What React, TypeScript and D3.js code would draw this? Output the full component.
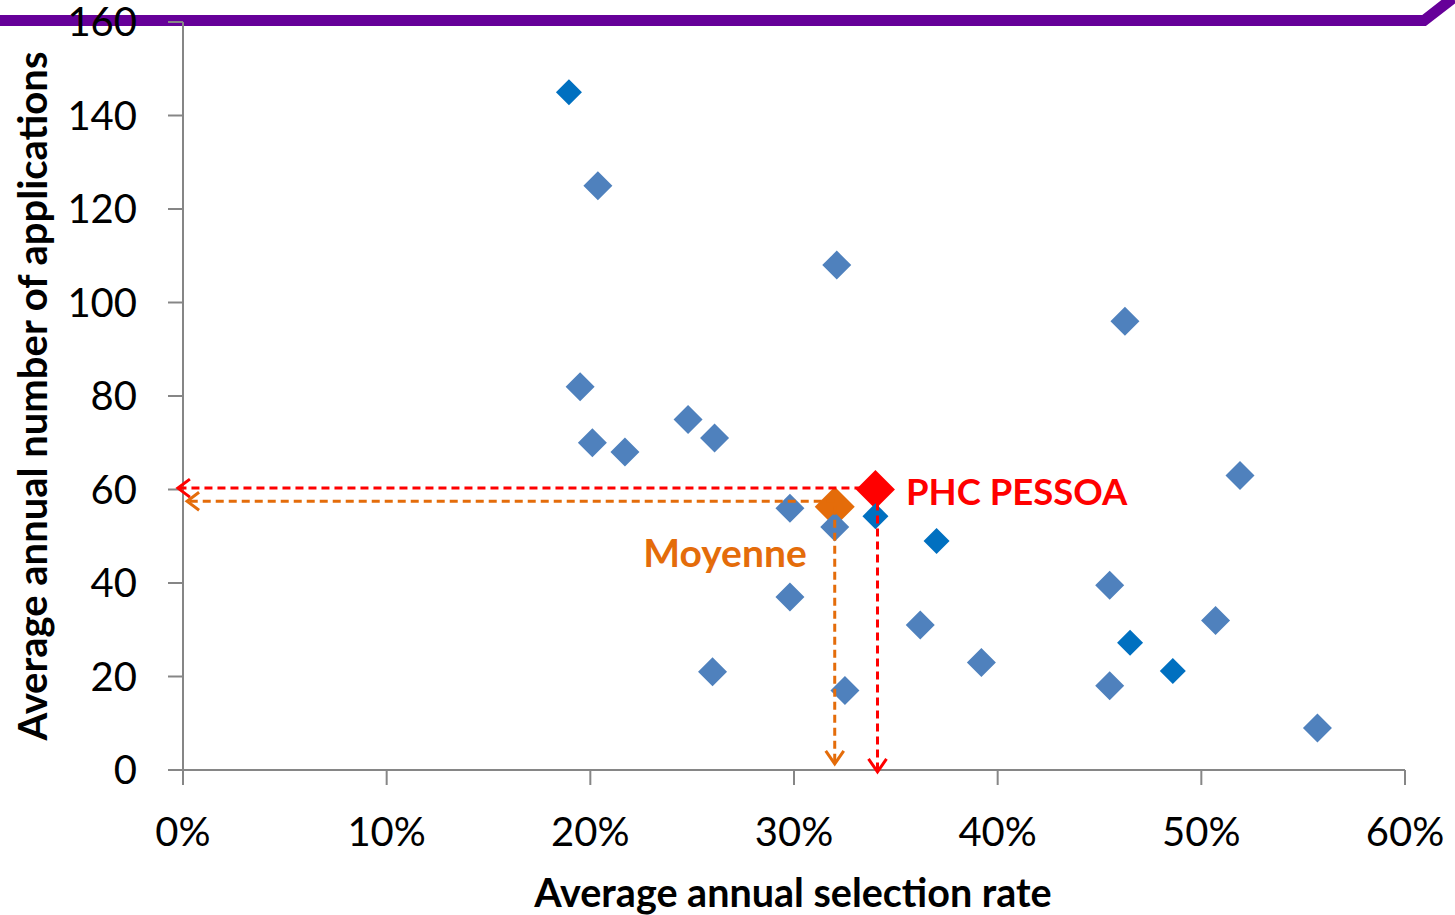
import React from "react";
import * as d3 from "d3";

const W = 1455;
const H = 915;

// Main series (light blue): [selection rate, applications]
const seriesLightX = [0.2037, 0.321, 0.4625, 0.195, 0.201, 0.217, 0.248, 0.261, 0.519, 0.298, 0.320, 0.298, 0.260, 0.325, 0.362, 0.392, 0.455, 0.455, 0.507, 0.557];
const seriesLightY = [125, 108, 96, 82, 70, 68, 75, 71, 63, 56, 52, 37, 21, 17, 31, 23, 39.5, 18, 32, 9];
// Second series (darker blue)
const seriesDarkX = [0.1895, 0.340, 0.370, 0.465, 0.486];
const seriesDarkY = [145, 54.3, 49, 27.2, 21.2];
// Highlighted points
const avgPoint = { x: 0.320, y: 56.3, label: "Moyenne" };
const pessoaPoint = { x: 0.340, y: 60, label: "PHC PESSOA" };
// Guide line levels (dashed arrows)
const avgGuide = { hY: 57.5, hTip: 0.002, vX: 0.320, vTip: 1.3 };
const pessoaGuide = { hY: 60.3, hTip: -0.0025, vX: 0.341, vTip: -0.4 };

const xTicks = [0, 0.1, 0.2, 0.3, 0.4, 0.5, 0.6];
const yTicks = [0, 20, 40, 60, 80, 100, 120, 140, 160];
const xTitle = "Average annual selection rate";
const yTitle = "Average annual number of applications";

const FONT = "Lato, 'Open Sans', sans-serif";

function diamond(cx: number, cy: number, r: number) {
  return `M${cx},${cy - r}L${cx + r},${cy}L${cx},${cy + r}L${cx - r},${cy}Z`;
}

export default function App() {
  const x = d3.scaleLinear().domain([0, 0.6]).range([183, 1405]);
  const y = d3.scaleLinear().domain([0, 160]).range([770, 22]);
  const axisColor = "#868686";
  const fmt = d3.format(".0%");

  const arrowH = (tipX: number, yy: number) =>
    `M${tipX + 12},${yy - 9}L${tipX},${yy}L${tipX + 12},${yy + 9}`;
  const arrowV = (xx: number, tipY: number) =>
    `M${xx - 9},${tipY - 13}L${xx},${tipY}L${xx + 9},${tipY - 13}`;

  return (
    <svg width={W} height={H} style={{ position: "absolute", left: 0, top: 0, background: "#fff" }} fontFamily={FONT}>
      {/* purple top band */}
      <path d={`M-10,20.5L1424,20.5L1453,-2`} stroke="#660099" strokeWidth={11} fill="none" strokeLinejoin="miter" />

      {/* axes */}
      <line x1={x(0)} x2={x(0)} y1={y(160)} y2={y(0)} stroke={axisColor} strokeWidth={2} />
      <line x1={x(0)} x2={x(0.6)} y1={y(0)} y2={y(0)} stroke={axisColor} strokeWidth={2} />
      {yTicks.map((t) => (
        <g key={"y" + t}>
          <line x1={x(0) - 15} x2={x(0)} y1={y(t)} y2={y(t)} stroke={axisColor} strokeWidth={2} />
          <text x={137} y={y(t)} dy="0.36em" textAnchor="end" fontSize={40} fill="#000">{t}</text>
        </g>
      ))}
      {xTicks.map((t) => (
        <g key={"x" + t}>
          <line x1={x(t)} x2={x(t)} y1={y(0)} y2={y(0) + 15} stroke={axisColor} strokeWidth={2} />
          <text x={x(t)} y={832} dy="0.36em" textAnchor="middle" fontSize={40} fill="#000">{fmt(t)}</text>
        </g>
      ))}

      {/* axis titles */}
      <text x={793} y={907} textAnchor="middle" fontSize={39.5} fontWeight="bold" fill="#000">{xTitle}</text>
      <text transform={`translate(47,396) rotate(-90)`} textAnchor="middle" fontSize={40} fontWeight="bold" fill="#000">{yTitle}</text>

      {/* highlighted points */}
      <path d={diamond(x(avgPoint.x), y(avgPoint.y), 20)} fill="#E46C0A" />
      <path d={diamond(x(pessoaPoint.x), y(pessoaPoint.y), 19.5)} fill="#FF0000" />

      {/* series */}
      {seriesLightX.map((v, i) => (
        <path key={"l" + i} d={diamond(x(v), y(seriesLightY[i]), 14.5)} fill="#4F81BD" />
      ))}
      {seriesDarkX.map((v, i) => (
        <path key={"d" + i} d={diamond(x(v), y(seriesDarkY[i]), 13)} fill="#0070C0" />
      ))}

      {/* guide lines */}
      <g fill="none" strokeWidth={3}>
        <line x1={x(avgPoint.x)} x2={x(avgGuide.hTip)} y1={y(avgGuide.hY)} y2={y(avgGuide.hY)} stroke="#E46C0A" strokeDasharray="8,5" />
        <path d={arrowH(x(avgGuide.hTip), y(avgGuide.hY))} stroke="#E46C0A" />
        <line x1={x(avgGuide.vX)} x2={x(avgGuide.vX)} y1={y(avgPoint.y)} y2={y(avgGuide.vTip)} stroke="#E46C0A" strokeDasharray="8,5" />
        <path d={arrowV(x(avgGuide.vX), y(avgGuide.vTip))} stroke="#E46C0A" />

        <line x1={x(pessoaPoint.x)} x2={x(pessoaGuide.hTip)} y1={y(pessoaGuide.hY)} y2={y(pessoaGuide.hY)} stroke="#FF0000" strokeDasharray="8,5" />
        <path d={arrowH(x(pessoaGuide.hTip), y(pessoaGuide.hY))} stroke="#FF0000" />
        <line x1={x(pessoaGuide.vX)} x2={x(pessoaGuide.vX)} y1={y(pessoaPoint.y)} y2={y(pessoaGuide.vTip)} stroke="#FF0000" strokeDasharray="8,5" />
        <path d={arrowV(x(pessoaGuide.vX), y(pessoaGuide.vTip))} stroke="#FF0000" />
      </g>

      {/* labels */}
      <text x={906} y={492} dy="0.36em" fontSize={36.5} fontWeight="bold" fill="#FF0000">{pessoaPoint.label}</text>
      <text x={725} y={553} dy="0.36em" textAnchor="middle" fontSize={39} fontWeight="bold" fill="#E46C0A">{avgPoint.label}</text>
    </svg>
  );
}
